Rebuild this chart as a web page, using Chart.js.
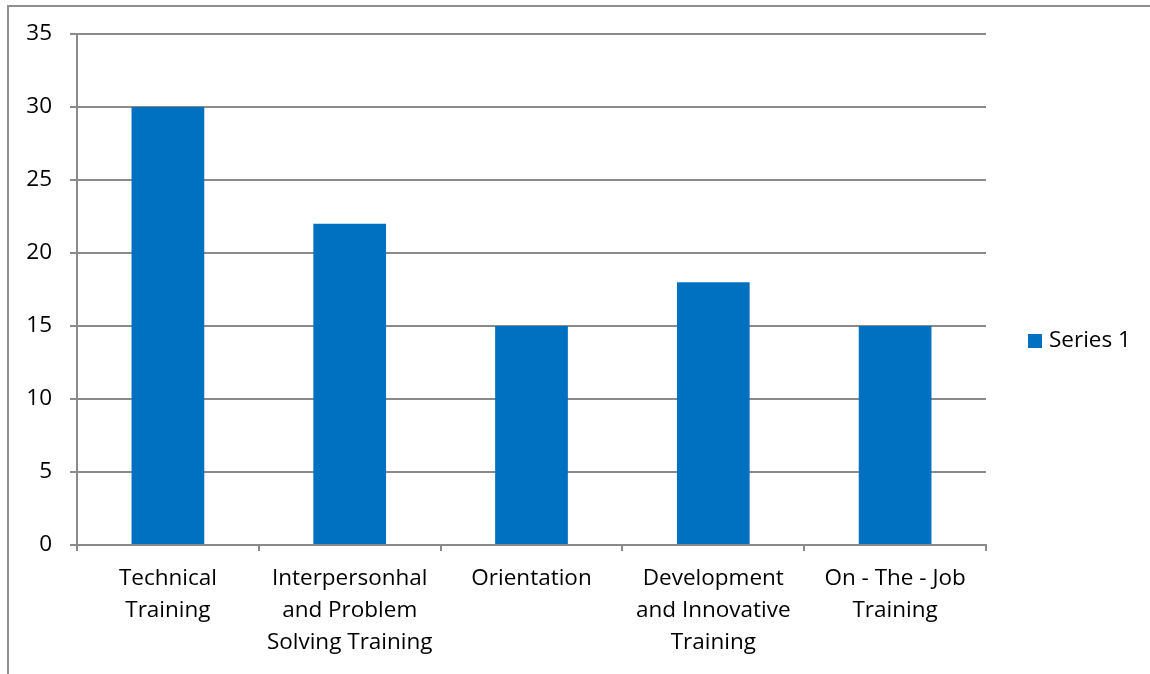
<!DOCTYPE html>
<html>
<head>
<meta charset="utf-8">
<script src="https://cdn.jsdelivr.net/npm/chart.js@4/dist/chart.umd.min.js"></script>
<style>
  html, body { margin: 0; padding: 0; background: #fff; }
  #wrap { position: relative; width: 1150px; height: 674px; overflow: hidden; }
  #frame { position: absolute; left: 7px; top: 5px; width: 1200px; height: 700px;
           border-top: 2px solid #8e8e8e; border-left: 2px solid #8e8e8e; box-sizing: border-box; }
  canvas { position: absolute; left: 0; top: 0; }
</style>
</head>
<body>
<div id="wrap">
  <div id="frame"></div>
  <canvas id="chart" width="1150" height="674"></canvas>
</div>
<script>
// Training categories (multi-line labels) and their values
const categories = [
  ["Technical", "Training"],
  ["Interpersonhal", "and Problem", "Solving Training"],
  ["Orientation"],
  ["Development", "and Innovative", "Training"],
  ["On - The - Job", "Training"]
];
const seriesName = "Series 1";
const seriesValues = [30, 22, 15, 18, 15];
const yTicks = [0, 5, 10, 15, 20, 25, 30, 35];

const FONT = "'Open Sans', 'Noto Sans', sans-serif";
const GRID = "#8a8a8a";
const BAR = "#0070C0";

// Legend drawn to the right of the plot area
const sideLegend = {
  id: "sideLegend",
  afterDraw(chart) {
    const ctx = chart.ctx;
    const area = chart.chartArea;
    const ds = chart.data.datasets[0];
    const x = area.right + 42;
    const y = chart.height / 2 + 4;
    ctx.save();
    ctx.fillStyle = ds.backgroundColor;
    ctx.fillRect(x, y - 7, 14, 14);
    ctx.fillStyle = "#000";
    ctx.font = "22.5px " + FONT;
    ctx.textBaseline = "middle";
    ctx.textAlign = "left";
    ctx.fillText(ds.label, x + 21, y);
    ctx.restore();
  }
};

new Chart(document.getElementById("chart"), {
  type: "bar",
  data: {
    labels: categories,
    datasets: [{
      label: seriesName,
      data: seriesValues,
      backgroundColor: BAR,
      borderWidth: 0,
      categoryPercentage: 1.0,
      barPercentage: 0.4
    }]
  },
  options: {
    responsive: false,
    animation: false,
    devicePixelRatio: 1,
    layout: { padding: { top: 34, right: 164, bottom: 0, left: 0 } },
    plugins: {
      legend: { display: false },
      tooltip: { enabled: false }
    },
    scales: {
      x: {
        grid: {
          offset: true,
          drawOnChartArea: false,
          drawTicks: true,
          tickLength: 6,
          color: GRID,
          lineWidth: 2
        },
        border: { color: GRID, width: 2 },
        ticks: {
          color: "#000",
          font: { family: FONT, size: 22.5, lineHeight: 1.42 },
          padding: 12,
          maxRotation: 0,
          autoSkip: false
        },
        afterFit(scale) { scale.height = 129; }
      },
      y: {
        min: 0,
        max: 35,
        afterBuildTicks(scale) { scale.ticks = yTicks.map(v => ({ value: v })); },
        grid: {
          color: GRID,
          lineWidth: 2,
          drawTicks: true,
          tickLength: 7
        },
        border: { color: GRID, width: 2 },
        ticks: {
          color: "#000",
          font: { family: FONT, size: 22.5 },
          padding: 18
        },
        afterFit(scale) { scale.width = 77; }
      }
    }
  },
  plugins: [sideLegend]
});
</script>
</body>
</html>
